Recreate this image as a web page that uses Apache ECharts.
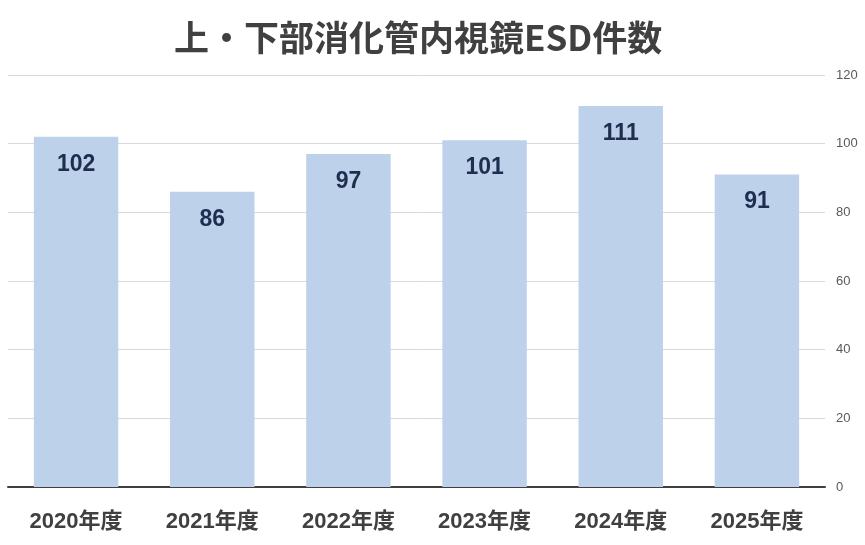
<!DOCTYPE html>
<html>
<head>
    <meta charset="utf-8">
    <title>ESD件数</title>
    <script type="text/javascript" src="https://cdn.jsdelivr.net/npm/echarts@6/dist/echarts.min.js"></script>
    <style>
        body { margin: 0; background: #fff; }
    </style>
</head>
<body>
    <div id="root" style="width: 865px; height: 545px;"></div>
<script type="text/javascript">
var years = ['2020年度', '2021年度', '2022年度', '2023年度', '2024年度', '2025年度'];
var counts = [102, 86, 97, 101, 111, 91];
var yTicks = [0, 20, 40, 60, 80, 100, 120];

var myChart = echarts.init(document.getElementById('root'));
var font = '"Noto Sans CJK JP", "Noto Sans", sans-serif';
var mixFont = '"Liberation Sans", "Noto Sans CJK JP", sans-serif';

var option = {
    animation: false,
    title: {
        text: '上・下部消化管内視鏡ESD件数',
        left: 169,
        top: 15,
        textStyle: {
            fontFamily: font,
            fontSize: 35,
            fontWeight: 'bold',
            color: '#404040'
        }
    },
    grid: {
        left: 8,
        right: 40,
        top: 75,
        bottom: 58
    },
    xAxis: {
        type: 'category',
        data: years,
        axisLine: { lineStyle: { color: '#404040', width: 2 } },
        axisTick: { show: false },
        axisLabel: {
            margin: 24,
            fontFamily: mixFont,
            fontSize: 22,
            fontWeight: 'bold',
            color: '#404040'
        }
    },
    yAxis: {
        type: 'value',
        position: 'right',
        min: yTicks[0],
        max: yTicks[yTicks.length - 1],
        interval: 20,
        axisLine: { show: false },
        axisTick: { show: false },
        axisLabel: {
            margin: 11,
            fontFamily: 'Liberation Sans, sans-serif',
            fontSize: 13,
            color: '#595959'
        },
        splitLine: { lineStyle: { color: '#d9d9d9', width: 1 } }
    },
    series: [{
        type: 'bar',
        data: counts,
        barWidth: '62%',
        itemStyle: { color: '#bdd1ea' },
        label: {
            show: true,
            position: 'insideTop',
            distance: 16,
            fontFamily: mixFont,
            fontSize: 23,
            fontWeight: 'bold',
            color: '#1f2d4f'
        }
    }]
};
myChart.setOption(option, true);
</script>
</body>
</html>
